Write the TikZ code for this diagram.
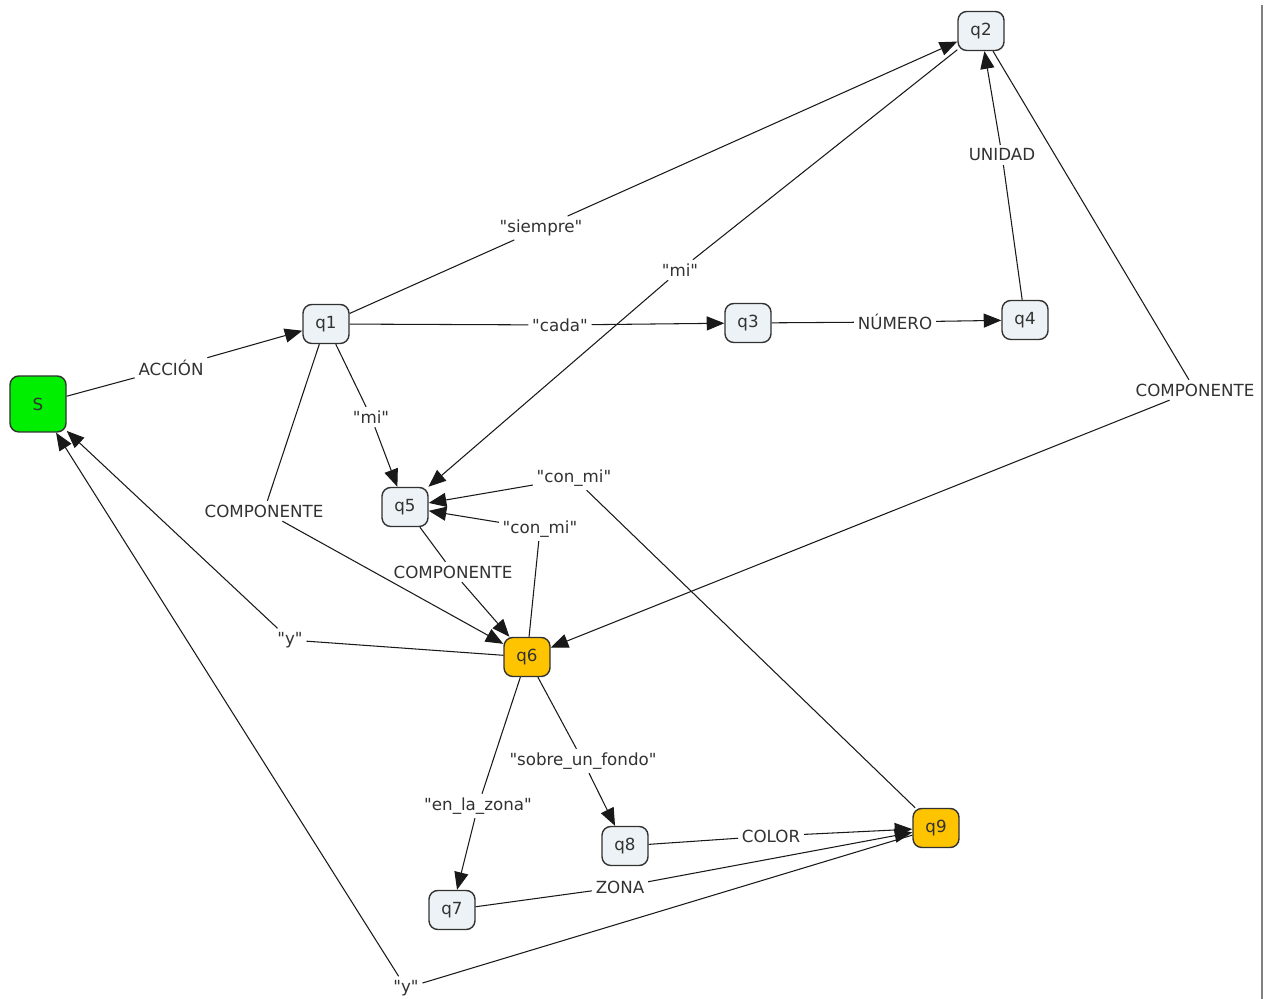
\documentclass[tikz,border=0pt]{standalone}
\usepackage{fontspec}
\setmainfont{DejaVu Sans}[Ligatures=TeXOff]
\usetikzlibrary{arrows.meta}
\tikzset{>={Triangle[length=10pt,width=8pt]}}
\definecolor{statefill}{RGB}{236,242,245}
\definecolor{startfill}{RGB}{0,238,0}
\definecolor{finalfill}{RGB}{255,196,0}
\definecolor{inkgray}{RGB}{50,50,50}
\newcommand{\qt}[1]{\symbol{34}#1\symbol{34}}
\tikzset{
  state/.style={draw=inkgray,thick,rounded corners=5pt,fill=statefill,
    minimum width=0.92cm,minimum height=0.78cm,inner sep=1pt,
    text=inkgray,font=\fontsize{9.5}{11}\selectfont},
  label/.style={fill=white,inner sep=2pt,text=inkgray,
    font=\fontsize{9.5}{11}\selectfont},
  link/.style={draw=black!90,semithick}
}

\begin{document}
\begin{tikzpicture}

\useasboundingbox (0,0) rectangle (25.46,19.98);

% Place states
\node[state,fill=startfill,minimum width=1.12cm,minimum height=1.12cm] (S) at (0.76,11.90) {S};
\node[state] (q1) at (6.52,13.50) {q1};
\node[state] (q2) at (19.62,19.36) {q2};
\node[state] (q3) at (14.96,13.52) {q3};
\node[state] (q4) at (20.50,13.58) {q4};
\node[state] (q5) at (8.10,9.84) {q5};
\node[state,fill=finalfill] (q6) at (10.54,6.84) {q6};
\node[state] (q7) at (9.04,1.78) {q7};
\node[state] (q8) at (12.50,3.06) {q8};
\node[state,fill=finalfill] (q9) at (18.72,3.42) {q9};

% Place transition labels
\node[label] (accion) at (3.42,12.62) {ACCIÓN};
\node[label] (siempre) at (10.82,15.42) {\qt{siempre}};
\node[label] (cada) at (11.20,13.48) {\qt{cada}};
\node[label] (numero) at (17.90,13.54) {NÚMERO};
\node[label] (unidad) at (20.04,16.88) {UNIDAD};
\node[label] (mi2) at (13.60,14.58) {\qt{mi}};
\node[label] (mi1) at (7.42,11.64) {\qt{mi}};
\node[label] (comp1) at (5.28,9.76) {COMPONENTE};
\node[label] (comp2) at (23.90,12.18) {COMPONENTE};
\node[label] (comp5) at (9.06,8.54) {COMPONENTE};
\node[label] (conmi6) at (10.80,9.40) {\qt{con\_mi}};
\node[label] (conmi9) at (11.48,10.42) {\qt{con\_mi}};
\node[label] (y6) at (5.80,7.18) {\qt{y}};
\node[label] (sobre) at (11.66,4.76) {\qt{sobre\_un\_fondo}};
\node[label] (zona6) at (9.56,3.86) {\qt{en\_la\_zona}};
\node[label] (color) at (15.42,3.26) {COLOR};
\node[label] (zona) at (12.40,2.24) {ZONA};
\node[label] (y9) at (8.12,0.22) {\qt{y}};

% Draw transitions
\draw[link] (S) -- (accion); \draw[link,->] (accion) -- (q1);
\draw[link] (q1) -- (siempre); \draw[link,->] (siempre) -- (q2);
\draw[link] (q1) -- (cada); \draw[link,->] (cada) -- (q3);
\draw[link] (q3) -- (numero); \draw[link,->] (numero) -- (q4);
\draw[link] (q4) -- (unidad); \draw[link,->] (unidad) -- (q2);
\draw[link] (q2) -- (mi2); \draw[link,->] (mi2) -- (q5);
\draw[link] (q1) -- (mi1); \draw[link,->] (mi1) -- (q5);
\draw[link] (q1) -- (comp1); \draw[link,->] (comp1) -- (q6);
\draw[link] (q2) -- (comp2); \draw[link,->] (comp2) -- (q6);
\draw[link] (q5) -- (comp5); \draw[link,->] (comp5) -- (q6);
\draw[link] (q6) -- (conmi6); \draw[link,->] (conmi6) -- (q5);
\draw[link] (q9) -- (conmi9); \draw[link,->] (conmi9) -- (q5);
\draw[link] (q6) -- (y6); \draw[link,->] (y6) -- (S);
\draw[link] (q6) -- (sobre); \draw[link,->] (sobre) -- (q8);
\draw[link] (q6) -- (zona6); \draw[link,->] (zona6) -- (q7);
\draw[link] (q8) -- (color); \draw[link,->] (color) -- (q9);
\draw[link] (q7) -- (zona); \draw[link,->] (zona) -- (q9);
\draw[link] (q9) -- (y9); \draw[link,->] (y9) -- (S);

% Page edge
\draw[gray,thick] (25.24,19.88) -- (25.24,0);

\end{tikzpicture}
\end{document}
